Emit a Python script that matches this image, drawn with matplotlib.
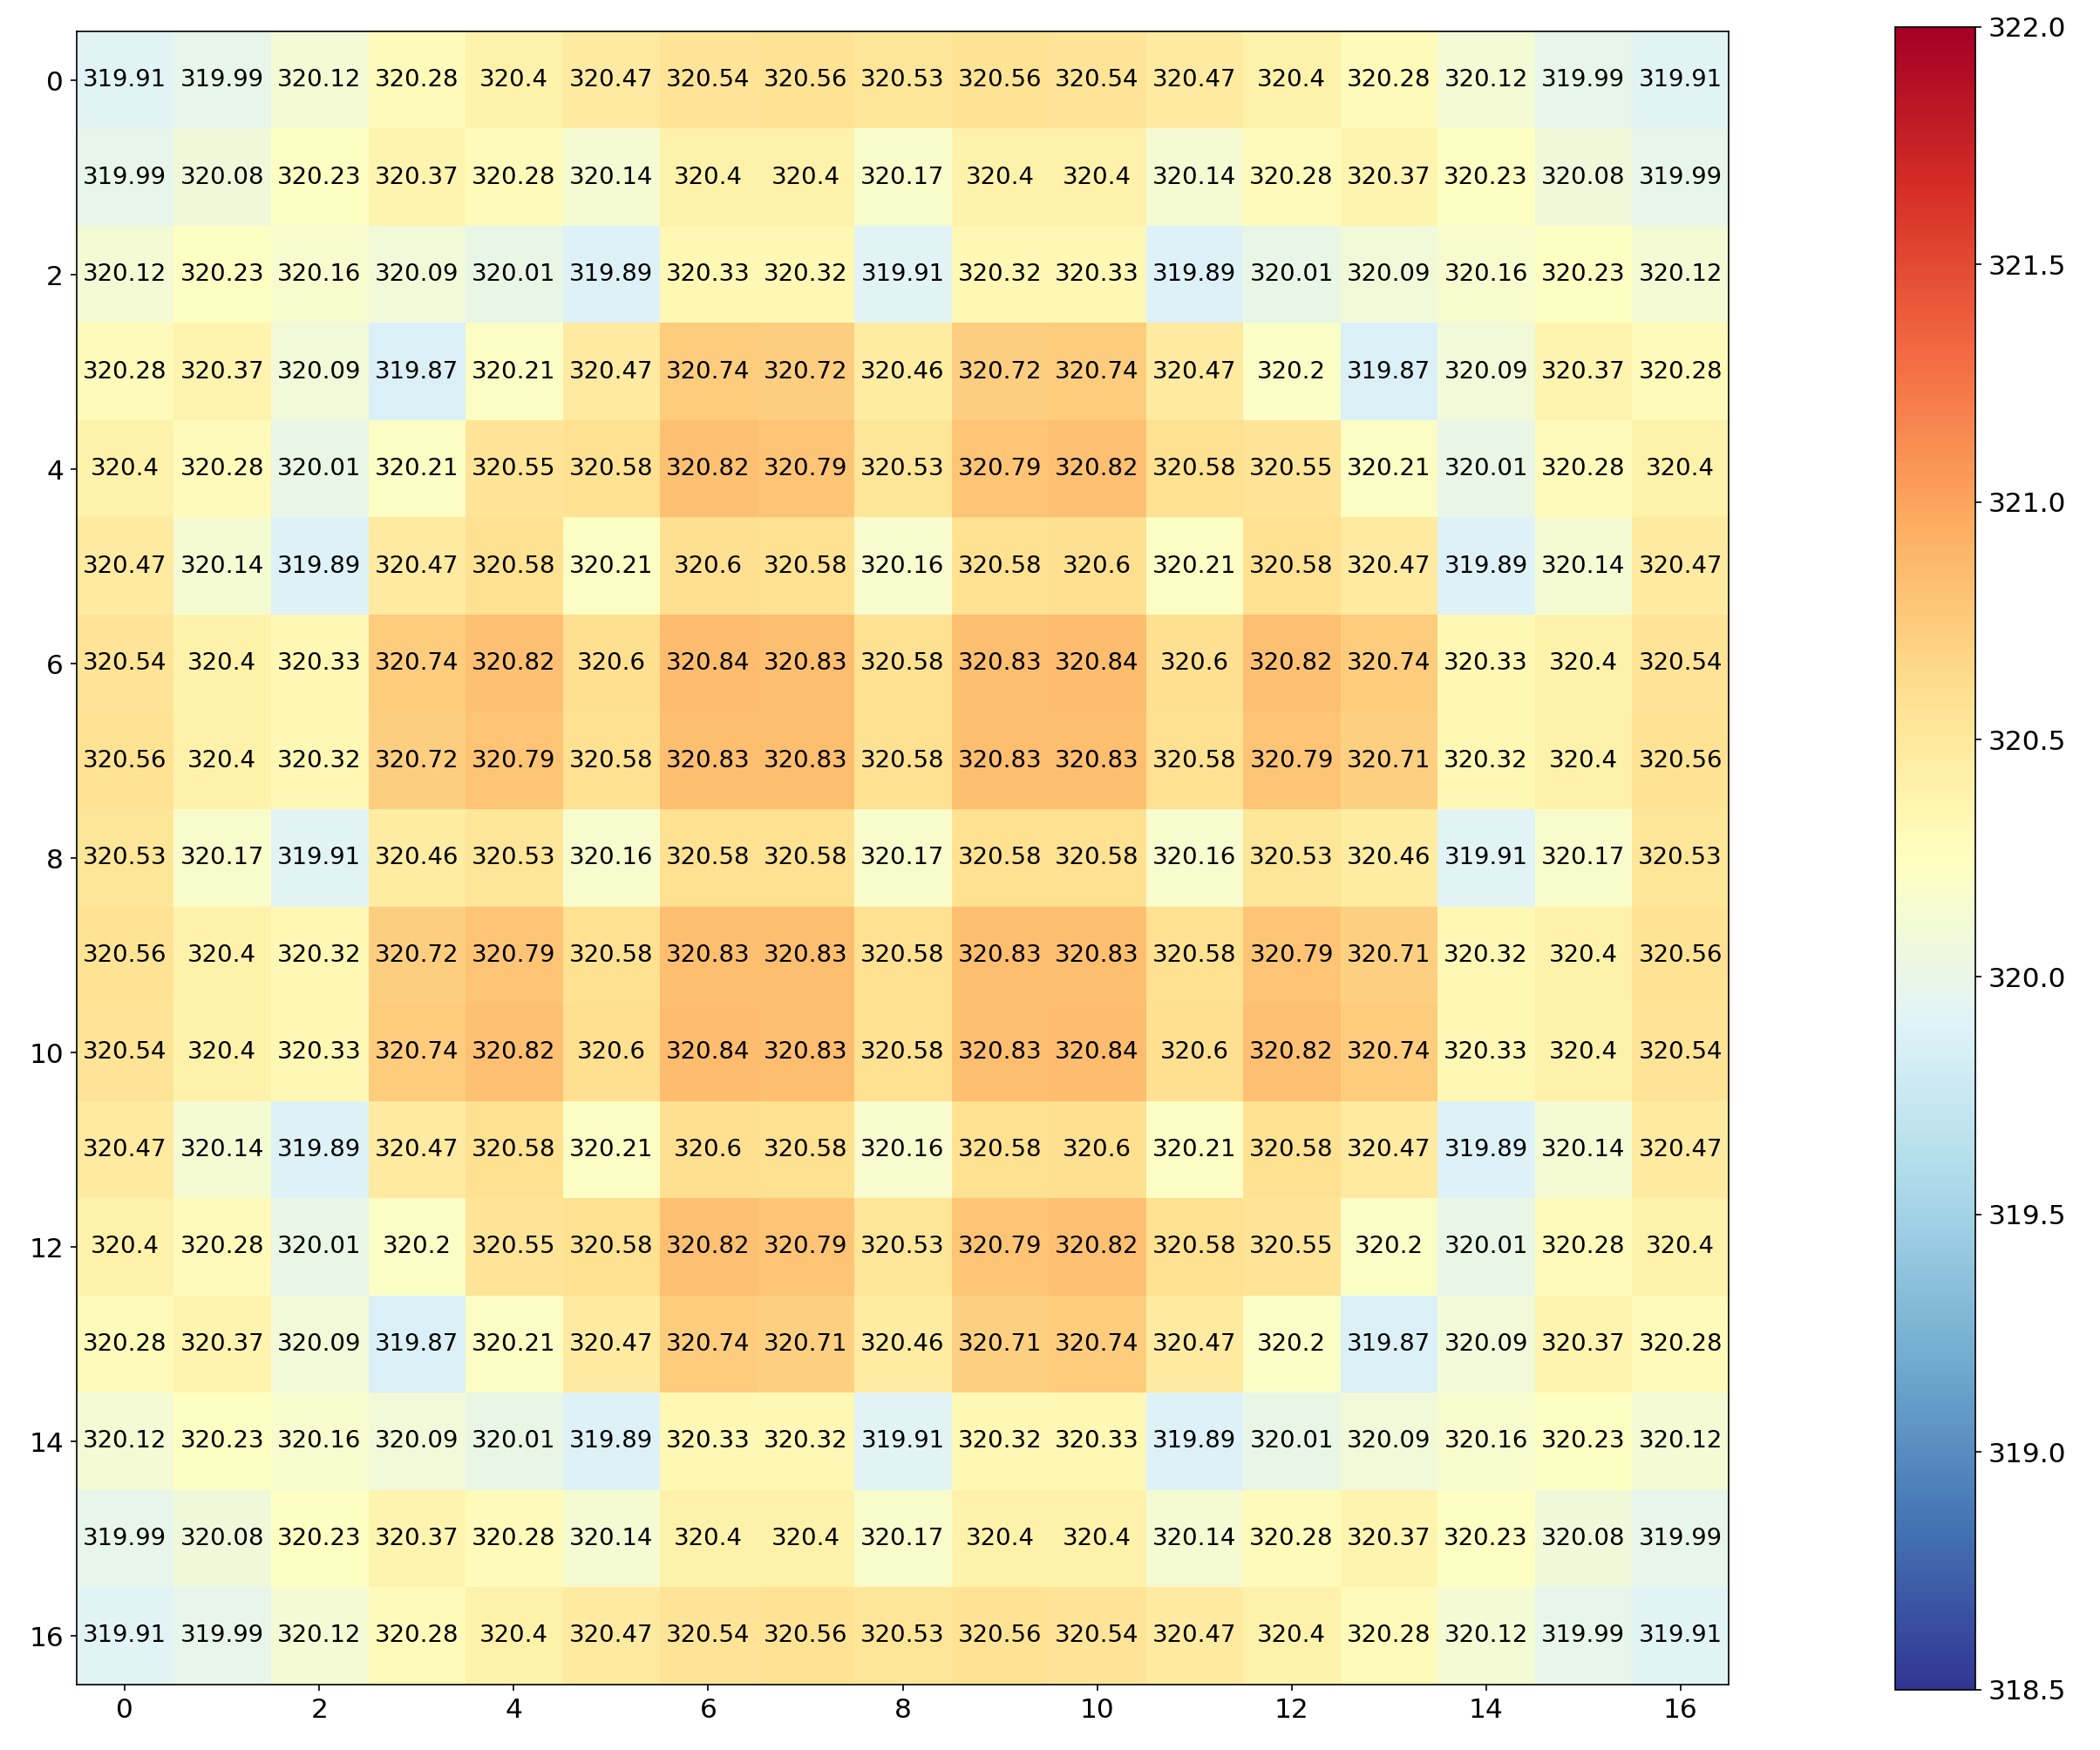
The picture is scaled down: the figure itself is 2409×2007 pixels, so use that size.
import matplotlib
matplotlib.use("Agg")
import matplotlib.pyplot as plt
import numpy as np

row0 = [319.91,319.99,320.12,320.28,320.4,320.47,320.54,320.56,320.53,320.56,320.54,320.47,320.4,320.28,320.12,319.99,319.91]
row1 = [319.99,320.08,320.23,320.37,320.28,320.14,320.4,320.4,320.17,320.4,320.4,320.14,320.28,320.37,320.23,320.08,319.99]
row2 = [320.12,320.23,320.16,320.09,320.01,319.89,320.33,320.32,319.91,320.32,320.33,319.89,320.01,320.09,320.16,320.23,320.12]
row3 = [320.28,320.37,320.09,319.87,320.21,320.47,320.74,320.72,320.46,320.72,320.74,320.47,320.2,319.87,320.09,320.37,320.28]
row4 = [320.4,320.28,320.01,320.21,320.55,320.58,320.82,320.79,320.53,320.79,320.82,320.58,320.55,320.21,320.01,320.28,320.4]
row5 = [320.47,320.14,319.89,320.47,320.58,320.21,320.6,320.58,320.16,320.58,320.6,320.21,320.58,320.47,319.89,320.14,320.47]
row6 = [320.54,320.4,320.33,320.74,320.82,320.6,320.84,320.83,320.58,320.83,320.84,320.6,320.82,320.74,320.33,320.4,320.54]
row7 = [320.56,320.4,320.32,320.72,320.79,320.58,320.83,320.83,320.58,320.83,320.83,320.58,320.79,320.71,320.32,320.4,320.56]
row8 = [320.53,320.17,319.91,320.46,320.53,320.16,320.58,320.58,320.17,320.58,320.58,320.16,320.53,320.46,319.91,320.17,320.53]
row9 = list(row7)
row10 = list(row6)
row11 = list(row5)
row12 = [320.4,320.28,320.01,320.2,320.55,320.58,320.82,320.79,320.53,320.79,320.82,320.58,320.55,320.2,320.01,320.28,320.4]
row13 = [320.28,320.37,320.09,319.87,320.21,320.47,320.74,320.71,320.46,320.71,320.74,320.47,320.2,319.87,320.09,320.37,320.28]
row14 = list(row2)
row15 = list(row1)
row16 = list(row0)

data = np.array([row0,row1,row2,row3,row4,row5,row6,row7,row8,row9,row10,row11,row12,row13,row14,row15,row16])

fig = plt.figure(figsize=(2409/150, 2007/150), dpi=150)
ax = fig.add_axes([57/1568, 1-1255/1300, (1291-57)/1568, (1255-20)/1300])
im = ax.imshow(data, cmap="RdYlBu_r", vmin=318.5, vmax=322)
n = data.shape[0]
for i in range(n):
    for j in range(n):
        ax.text(j, i, f"{round(data[i, j], 2):g}", ha="center", va="center", fontsize=13.2)
ax.set_xticks(range(0, 17, 2))
ax.set_yticks(range(0, 17, 2))
ax.tick_params(labelsize=15)
cax = fig.add_axes([1415/1568, 1-1255/1300, 60/1568, (1255-20)/1300])
cb = fig.colorbar(im, cax=cax)
cb.ax.tick_params(labelsize=15)
fig.savefig("out.png", dpi=150)
